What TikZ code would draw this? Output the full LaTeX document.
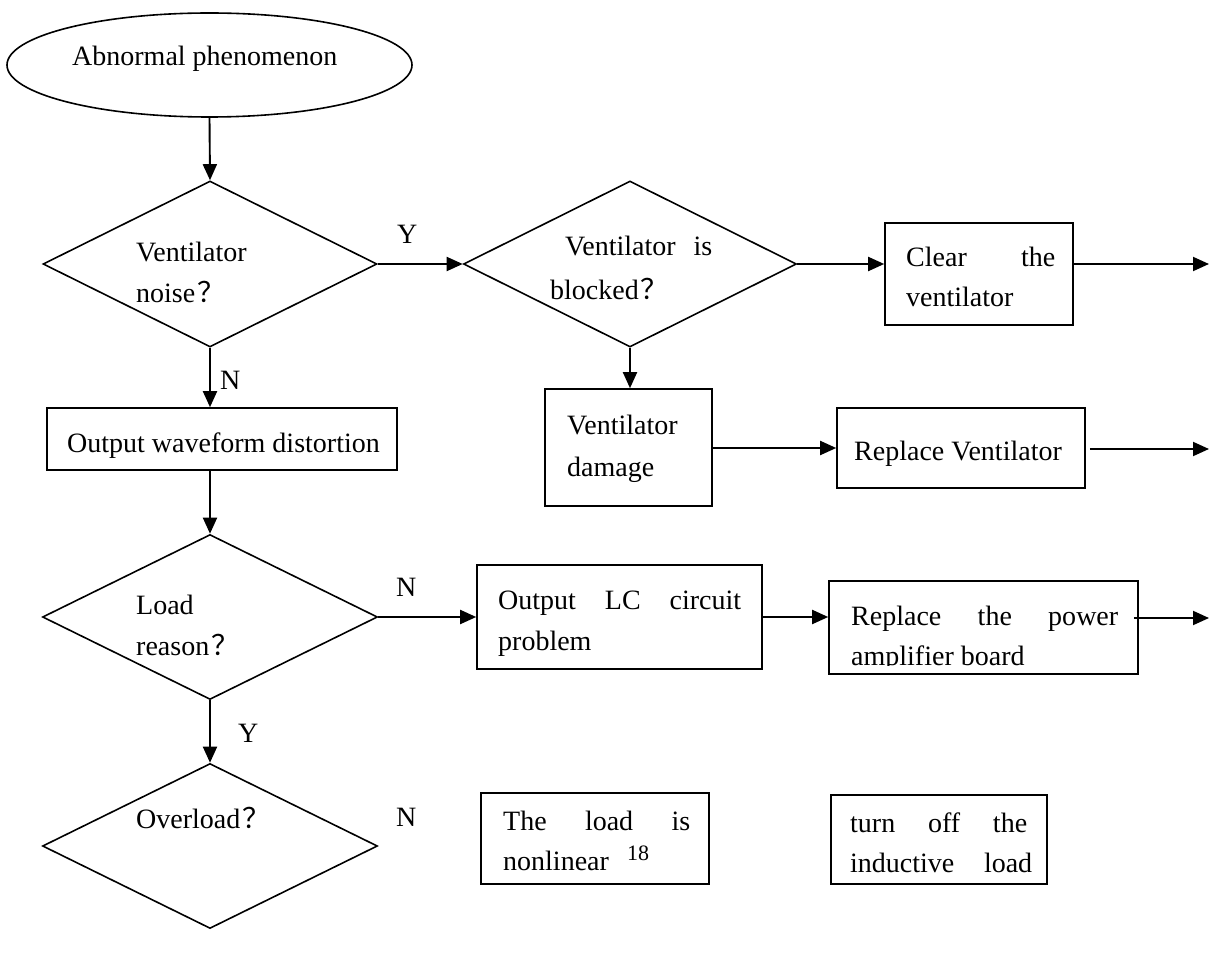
\documentclass[tikz,border=0pt]{standalone}
\usepackage{fontspec}
\setmainfont{Liberation Serif}
\newfontfamily\cjk{Noto Sans CJK SC}
\usetikzlibrary{shapes.geometric,arrows.meta}
\newcommand\qm{\hspace{2pt}{\cjk ？}}
\newcommand\just[2]{\makebox[#1pt][s]{#2}}

\begin{document}
\begin{tikzpicture}[x=1pt,y=-1pt,
  every node/.style={font=\fontsize{28}{41}\selectfont},
  outline/.style={draw, line width=1.6pt, inner sep=0pt},
  boxnode/.style={outline, rectangle},
  decision/.style={outline, diamond},
  startnode/.style={outline, ellipse},
  txt/.style={anchor=base west, inner sep=0pt},
  flow/.style={line width=1.9pt, -{Triangle[length=16pt,width=14pt]}}]
\useasboundingbox (0,0) rectangle (1209,973);

% shapes
\node[startnode, minimum width=405pt, minimum height=104pt] (start) at (209.5,65) {};
\node[decision, minimum width=334pt, minimum height=166pt] (d1) at (210,264) {};
\node[decision, minimum width=333pt, minimum height=166pt] (d2) at (630,264) {};
\node[decision, minimum width=335pt, minimum height=165pt] (d3) at (210,617) {};
\node[decision, minimum width=335pt, minimum height=165pt] (d4) at (210,846) {};
\node[boxnode, minimum width=188pt, minimum height=102pt] (clear) at (979,274) {};
\node[boxnode, minimum width=167pt, minimum height=117pt] (dmg) at (628.5,447.5) {};
\node[boxnode, minimum width=248pt, minimum height=80pt] (rv) at (961,448) {};
\node[boxnode, minimum width=350pt, minimum height=62pt] (owd) at (222,439) {};
\node[boxnode, minimum width=285pt, minimum height=104pt] (lc) at (619.5,617) {};
\node[boxnode, minimum width=309pt, minimum height=93pt] (rp) at (983.5,627.5) {};
\node[boxnode, minimum width=228pt, minimum height=91pt] (nl) at (595,838.5) {};
\node[boxnode, minimum width=216pt, minimum height=89pt] (toff) at (939,839.5) {};

% texts
\node[txt] (tstart) at (72,66) {Abnormal phenomenon};
\node[txt] (td1a) at (136,262) {Ventilator};
\node[txt] (td1b) at (136,302) {noise\qm};
\node[txt] (td2a) at (565,256) {\just{147}{Ventilator is}};
\node[txt] (td2b) at (550,300) {blocked\qm};
\node[txt] (tclra) at (906,267) {\just{149}{Clear the}};
\node[txt] (tclrb) at (906,307) {ventilator};
\node[txt] (tdmga) at (567,434) {Ventilator};
\node[txt] (tdmgb) at (567,476) {damage};
\node[txt] (trv) at (854,460) {Replace Ventilator};
\node[txt] (towd) at (67,452) {Output waveform distortion};
\node[txt] (td3a) at (136,614) {Load};
\node[txt] (td3b) at (136,655) {reason\qm};
\node[txt] (tlca) at (498,609) {\just{243}{Output LC circuit}};
\node[txt] (tlcb) at (498,650) {problem};
\node[txt] (trpa) at (851,625) {\just{267}{Replace the power}};
\begin{scope}
  \clip (829,581) rectangle (1138,665);
  \node[txt] (trpb) at (851,665) {amplifier board};
\end{scope}
\node[txt] (td4) at (136,828) {Overload\qm};
\node[txt] (tnla) at (503,830) {\just{187}{The load is}};
\node[txt] (tnlb) at (503,870) {nonlinear};
\node[txt, font=\fontsize{22}{26}\selectfont] (tsup) at (627,860) {18};
\node[txt] (toffa) at (850,832) {\just{177}{turn off the}};
\node[txt] (toffb) at (850,872) {\just{182}{inductive load}};

% branch labels
\node[txt] (ly1) at (397,244) {Y};
\node[txt] (ln1) at (220,389) {N};
\node[txt] (ln2) at (396,596) {N};
\node[txt] (ly2) at (238,742) {Y};
\node[txt] (ln3) at (396,826) {N};

% free ends at the right margin
\coordinate (outA) at (1209,264);
\coordinate (outB) at (1209,449);
\coordinate (outC) at (1209,618);

% connectors
\draw[flow] (start.south) -- (d1.north);
\draw[flow] (d1.east) -- (d2.west);
\draw[flow] (d2.east) -- (d2.east -| clear.west);
\draw[flow] (clear.east |- outA) -- (outA);
\draw[flow] (d2.south) -- (d2.south |- dmg.north);
\draw[flow] (dmg.east |- rv.west) -- (rv.west);
\draw[flow] ([xshift=4pt]rv.east |- outB) -- (outB);
\draw[flow] (d1.south) -- (d1.south |- owd.north);
\draw[flow] (d1.south |- owd.south) -- (d3.north);
\draw[flow] (d3.east) -- (d3.east -| lc.west);
\draw[flow] (lc.east) -- (lc.east -| rp.west);
\draw[flow] ([xshift=-5pt]rp.east |- outC) -- (outC);
\draw[flow] (d3.south) -- (d4.north);
\end{tikzpicture}
\end{document}
